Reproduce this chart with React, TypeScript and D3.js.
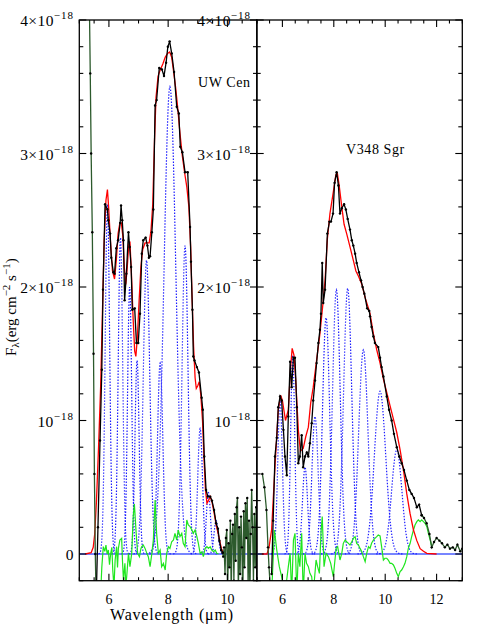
import React from "react";
import * as d3 from "d3";

type P = [number, number];

// ---------- UW Cen (left panel); flux in units of 1e-18 ----------
const uwExcludedBlue: P[] = [[5.33,4.3],[5.37,3.6],[5.40,3.0],[5.44,2.41],[5.48,1.5],[5.51,0.6],[5.54,0.0],[5.57,-0.35]];
const uwObserved: P[] = [[5.58,-0.25],[5.63,0.2],[5.70,0.85],[5.76,1.38],[5.80,1.98],[5.87,2.62],[5.95,2.58],[5.98,2.50],[6.04,2.40],[6.08,2.22],[6.15,2.11],[6.19,2.10],[6.25,2.29],[6.31,2.35],[6.38,2.48],[6.41,2.61],[6.45,2.50],[6.49,2.35],[6.53,1.90],[6.59,2.10],[6.66,2.41],[6.70,2.30],[6.75,2.15],[6.79,1.83],[6.87,1.84],[6.93,1.58],[6.99,1.58],[7.05,1.80],[7.11,2.25],[7.16,2.35],[7.24,2.37],[7.30,2.31],[7.35,2.22],[7.39,2.23],[7.45,2.41],[7.50,2.58],[7.56,3.36],[7.61,3.40],[7.70,3.64],[7.79,3.63],[7.86,3.58],[7.93,3.68],[7.99,3.80],[8.05,3.84],[8.12,3.75],[8.20,3.61],[8.29,3.35],[8.36,3.30],[8.41,3.05],[8.48,3.01],[8.57,2.86],[8.66,2.86],[8.74,2.45],[8.77,2.19],[8.82,1.83],[8.85,1.48],[8.89,1.45],[8.97,1.40],[9.04,1.36],[9.13,1.17],[9.17,1.08],[9.22,0.73],[9.28,0.48],[9.34,0.43],[9.42,0.43],[9.48,0.40],[9.55,0.33],[9.62,0.23],[9.68,0.19],[9.73,0.10],[9.79,0.03],[9.84,0.01]];
const uwExcludedRed: P[] = [[9.84,0.01],[9.86,-0.02],[9.89,0.05],[9.92,-0.15],[9.95,0.12],[9.98,0.18],[10.01,-0.25],[10.04,0.08],[10.07,-0.1],[10.10,0.25],[10.13,-0.3],[10.16,0.15],[10.19,0.22],[10.22,-0.2],[10.25,0.3],[10.28,-0.05],[10.31,0.35],[10.34,0.42],[10.37,-0.3],[10.40,0.2],[10.43,-0.15],[10.46,0.28],[10.49,0.05],[10.52,-0.35],[10.55,0.32],[10.58,-0.1],[10.61,0.38],[10.64,0.12],[10.67,0.42],[10.70,-0.25],[10.73,0.25],[10.76,-0.3],[10.79,0.15],[10.82,0.48],[10.85,0.20],[10.88,-0.2],[10.91,0.3],[10.94,-0.1],[10.97,0.35],[11.00,0.18]];
const uwModel: P[] = [[5.2,0],[5.40,0.01],[5.47,0.05],[5.52,0.15],[5.58,0.40],[5.65,0.80],[5.72,1.25],[5.78,1.80],[5.84,2.35],[5.90,2.65],[5.95,2.73],[5.99,2.60],[6.05,2.35],[6.12,2.12],[6.19,2.06],[6.25,2.20],[6.31,2.40],[6.37,2.48],[6.42,2.48],[6.47,2.38],[6.52,2.15],[6.57,2.02],[6.62,2.15],[6.67,2.32],[6.71,2.34],[6.76,2.10],[6.82,1.75],[6.87,1.52],[6.91,1.48],[6.96,1.62],[7.02,1.90],[7.08,2.15],[7.14,2.28],[7.22,2.33],[7.30,2.33],[7.36,2.33],[7.42,2.42],[7.48,2.62],[7.54,3.10],[7.59,3.42],[7.66,3.58],[7.74,3.63],[7.82,3.67],[7.90,3.72],[7.98,3.75],[8.05,3.76],[8.12,3.72],[8.18,3.62],[8.25,3.50],[8.32,3.35],[8.40,3.15],[8.48,2.98],[8.56,2.85],[8.63,2.75],[8.70,2.60],[8.76,2.30],[8.81,1.90],[8.86,1.55],[8.91,1.32],[8.95,1.24],[9.00,1.26],[9.05,1.29],[9.10,1.20],[9.16,1.00],[9.21,0.72],[9.26,0.48],[9.31,0.38],[9.36,0.40],[9.42,0.43],[9.48,0.39],[9.55,0.31],[9.62,0.22],[9.68,0.16],[9.74,0.10],[9.80,0.04],[9.86,0.01],[9.95,0]];
const uwResidual: P[] = [[5.72,-0.30],[5.76,-0.10],[5.81,0.055],[5.86,0.02],[5.90,0.067],[5.94,0.0],[5.98,0.03],[6.02,-0.08],[6.06,0.005],[6.10,0.05],[6.13,-0.12],[6.17,-0.25],[6.21,-0.045],[6.26,0.055],[6.29,-0.1],[6.32,0.042],[6.37,0.105],[6.43,0.117],[6.46,-0.06],[6.49,-0.195],[6.54,-0.07],[6.57,-0.24],[6.60,-0.17],[6.66,0.005],[6.71,-0.095],[6.77,0.005],[6.82,0.28],[6.86,0.375],[6.92,0.155],[6.97,0.005],[7.03,-0.02],[7.08,0.04],[7.11,0.055],[7.16,0.067],[7.22,0.042],[7.28,0.005],[7.33,-0.02],[7.39,-0.095],[7.45,0.005],[7.50,0.105],[7.56,0.405],[7.61,0.155],[7.67,0.005],[7.73,0.03],[7.78,-0.095],[7.84,-0.07],[7.90,-0.12],[7.95,0.005],[8.01,0.055],[8.06,0.042],[8.12,0.092],[8.18,0.105],[8.23,0.155],[8.29,0.105],[8.34,0.18],[8.40,0.13],[8.46,0.155],[8.51,0.08],[8.57,0.055],[8.63,0.255],[8.68,0.217],[8.74,0.205],[8.80,0.18],[8.85,0.155],[8.91,0.18],[8.97,0.13],[9.02,0.08],[9.08,0.005],[9.14,0.017],[9.19,-0.02],[9.25,0.042],[9.31,0.055],[9.36,0.042],[9.42,0.055],[9.47,0.03],[9.53,0.017],[9.59,0.03],[9.64,0.005],[9.70,0.0]];
// gaussian components: [centre (um), peak, sigma (um)]
const uwComponents: [number, number, number][] = [[5.95,2.62,0.075],[6.39,2.37,0.075],[6.70,2.00,0.07],[6.95,1.45,0.07],[7.27,2.20,0.11],[7.73,1.43,0.09],[8.06,3.50,0.20],[8.57,2.31,0.10],[9.08,0.94,0.08],[9.36,0.46,0.07],[9.62,0.25,0.07]];

// ---------- V348 Sgr (right panel) ----------
const vsExcludedBlue: P[] = [[5.22,0.60],[5.30,0.50],[5.38,0.33],[5.44,0.05],[5.48,-0.10],[5.52,-0.22],[5.55,-0.3]];
const vsObserved: P[] = [[5.58,-0.15],[5.64,0.25],[5.71,0.73],[5.78,0.87],[5.84,1.10],[5.91,1.18],[5.97,1.15],[6.04,0.93],[6.10,0.73],[6.17,0.59],[6.23,1.03],[6.30,1.44],[6.36,1.25],[6.43,1.47],[6.49,1.47],[6.56,1.10],[6.62,0.68],[6.68,0.73],[6.75,0.89],[6.81,0.65],[6.88,0.73],[6.95,0.76],[7.01,0.73],[7.07,0.83],[7.14,0.98],[7.20,1.15],[7.27,1.30],[7.33,1.43],[7.40,1.58],[7.46,1.68],[7.50,1.80],[7.55,2.18],[7.59,1.88],[7.66,1.98],[7.75,2.40],[7.83,2.49],[7.89,2.49],[7.97,2.55],[8.03,2.78],[8.11,2.86],[8.18,2.76],[8.24,2.55],[8.31,2.59],[8.40,2.62],[8.47,2.58],[8.54,2.51],[8.63,2.43],[8.70,2.35],[8.76,2.31],[8.83,2.25],[8.89,2.18],[8.98,2.11],[9.06,2.05],[9.12,2.00],[9.19,1.95],[9.30,1.84],[9.38,1.82],[9.41,1.78],[9.47,1.70],[9.54,1.63],[9.60,1.58],[9.73,1.55],[9.80,1.47],[9.86,1.40],[9.93,1.33],[10.06,1.18],[10.15,1.08],[10.25,1.00],[10.34,0.90],[10.45,0.80],[10.55,0.73],[10.64,0.68],[10.73,0.63],[10.84,0.55],[10.94,0.48],[11.03,0.45],[11.12,0.42],[11.23,0.35],[11.32,0.37],[11.42,0.29]];
const vsExcludedRed: P[] = [[11.42,0.29],[11.51,0.27],[11.61,0.23],[11.72,0.15],[11.81,0.05],[11.90,0.09],[12.00,0.12],[12.11,0.10],[12.21,0.08],[12.32,0.05],[12.42,0.07],[12.52,0.04],[12.63,0.05],[12.72,0.03],[12.81,0.07],[12.92,0.02],[13.0,0.04]];
const vsModel: P[] = [[5.2,0],[5.40,0.0],[5.48,0.05],[5.58,0.18],[5.71,0.65],[5.84,1.08],[5.93,1.19],[6.00,1.15],[6.12,1.00],[6.23,1.08],[6.32,1.40],[6.38,1.54],[6.45,1.49],[6.52,1.30],[6.62,0.93],[6.70,0.77],[6.81,0.79],[6.91,0.88],[7.01,0.95],[7.10,1.13],[7.20,1.25],[7.33,1.45],[7.46,1.65],[7.59,1.90],[7.66,2.05],[7.75,2.36],[7.85,2.55],[7.98,2.71],[8.08,2.84],[8.14,2.85],[8.21,2.76],[8.31,2.60],[8.40,2.47],[8.50,2.40],[8.63,2.30],[8.76,2.20],[8.86,2.12],[8.96,2.08],[9.09,2.02],[9.22,1.92],[9.35,1.84],[9.41,1.80],[9.54,1.65],[9.67,1.53],[9.80,1.43],[9.93,1.31],[10.06,1.21],[10.19,1.11],[10.32,1.01],[10.45,0.91],[10.58,0.78],[10.71,0.63],[10.84,0.45],[10.97,0.30],[11.10,0.18],[11.23,0.10],[11.36,0.04],[11.49,0.02],[11.62,0.005],[12.0,0]];
const vsResidual: P[] = [[5.58,-0.3],[5.69,0.18],[5.78,0.03],[5.88,-0.095],[5.97,-0.17],[6.10,-0.3],[6.23,-0.095],[6.30,0.005],[6.36,-0.3],[6.43,0.105],[6.49,0.155],[6.56,-0.3],[6.62,0.005],[6.68,-0.095],[6.75,0.155],[6.81,-0.3],[6.88,0.005],[6.94,-0.07],[7.01,-0.095],[7.07,-0.145],[7.14,-0.17],[7.20,-0.3],[7.31,-0.045],[7.37,-0.095],[7.44,-0.145],[7.50,0.155],[7.55,0.28],[7.62,-0.095],[7.70,0.005],[7.79,-0.02],[7.88,-0.07],[7.98,-0.17],[8.09,0.042],[8.15,0.055],[8.24,-0.045],[8.31,0.005],[8.37,0.08],[8.44,0.105],[8.50,0.092],[8.57,0.08],[8.63,0.067],[8.70,0.092],[8.76,0.117],[8.83,0.13],[8.89,0.08],[8.96,0.067],[9.02,0.042],[9.09,0.017],[9.15,-0.02],[9.22,-0.057],[9.28,0.005],[9.35,0.055],[9.41,0.042],[9.47,0.08],[9.54,0.105],[9.60,0.117],[9.67,0.13],[9.73,0.142],[9.80,0.135],[9.86,0.055],[9.93,-0.045],[9.99,-0.032],[10.06,-0.032],[10.12,-0.045],[10.19,-0.07],[10.25,-0.07],[10.32,-0.082],[10.38,-0.107],[10.45,-0.145],[10.51,-0.17],[10.58,-0.132],[10.64,-0.12],[10.71,-0.095],[10.77,-0.07],[10.84,-0.02],[10.90,0.042],[10.97,0.08],[11.03,0.13],[11.10,0.18],[11.16,0.217],[11.23,0.242],[11.29,0.255],[11.36,0.242],[11.42,0.255],[11.49,0.242],[11.55,0.23],[11.62,0.205],[11.68,0.155],[11.75,0.105],[11.81,0.055]];
const vsComponents: [number, number, number][] = [[5.91,1.15,0.09],[6.40,1.49,0.08],[6.88,0.65,0.10],[7.27,1.03,0.12],[7.70,1.77,0.14],[8.10,1.98,0.15],[8.54,1.99,0.16],[9.15,1.53,0.18],[9.80,1.22,0.22],[10.45,0.78,0.20]];

// ---------- axes ----------
const yDomain: P = [-0.2, 4];
const yTickValues = [0, 1, 2, 3, 4];
const yTickBase = ["0", "10", "2\u00d710", "3\u00d710", "4\u00d710"];
const yTickExp = ["", "\u221218", "\u221218", "\u221218", "\u221218"];
const leftXTicks = [6, 8, 10];
const rightXTicks = [6, 8, 10, 12];

const FONT = "'Liberation Serif', 'DejaVu Serif', serif";
const yScale = d3.scaleLinear().domain(yDomain).range([580.7, 20]);

type PanelProps = {
  id: string;
  domain: P;
  range: P;
  ticks: number[];
  excludedA: P[];
  observed: P[];
  excludedB: P[];
  model: P[];
  residual: P[];
  components: [number, number, number][];
  name: string;
  nameX: number;
  nameY: number;
  labelX: number;
};

function Panel(p: PanelProps) {
  const x = d3.scaleLinear().domain(p.domain).range(p.range);
  const y = yScale;
  const line = d3.line<P>().x((d) => x(d[0])).y((d) => y(d[1]));
  const [x0, x1] = p.range;
  const yTop = y(yDomain[1]);
  const yBot = y(yDomain[0]);
  const minorX = d3.range(p.domain[0], p.domain[1] + 0.001, 0.5);
  const minorY = d3.range(yDomain[0], yDomain[1] + 0.001, 0.2);
  const gauss = (c: number, a: number, s: number): P[] =>
    d3.range(-4, 4.001, 0.08).map((k) => [c + k * s, a * Math.exp((-k * k) / 2)] as P);
  const dots = [...p.excludedA, ...p.observed, ...p.excludedB];
  return (
    <g>
      <defs>
        <clipPath id={p.id}>
          <rect x={x0} y={yTop} width={x1 - x0} height={yBot - yTop} />
        </clipPath>
      </defs>
      <g clipPath={`url(#${p.id})`}>
        <line x1={x0} x2={x1} y1={y(0)} y2={y(0)} stroke="#4a5cff" strokeWidth={1.6} />
        {p.components.map((c, i) => (
          <path key={i} d={line(gauss(c[0], c[1], c[2])) || ""} fill="none" stroke="#1c1cff" strokeWidth={1.2} strokeDasharray="1.4,1.6" />
        ))}
        <path d={line(p.residual) || ""} fill="none" stroke="#1ee61e" strokeWidth={1.2} />
        <path d={line(p.model) || ""} fill="none" stroke="#ff0000" strokeWidth={1.3} />
        <path d={line(p.excludedA) || ""} fill="none" stroke="#2c5a2c" strokeWidth={1.3} />
        <path d={line(p.excludedB) || ""} fill="none" stroke="#2c5a2c" strokeWidth={1.3} />
        <path d={line(p.observed) || ""} fill="none" stroke="#000" strokeWidth={1.3} />
        {dots.map((d, i) => (
          <circle key={i} cx={x(d[0])} cy={y(d[1])} r={1.2} fill="#000" />
        ))}
      </g>
      <rect x={x0} y={yTop} width={x1 - x0} height={yBot - yTop} fill="none" stroke="#000" strokeWidth={1.3} />
      {minorX.map((v, i) => {
        const major = Math.abs(v % 2) < 1e-6;
        const len = major ? 7 : 3.5;
        return (
          <g key={"x" + i}>
            <line x1={x(v)} x2={x(v)} y1={yTop} y2={yTop + len} stroke="#000" strokeWidth={1.1} />
            <line x1={x(v)} x2={x(v)} y1={yBot} y2={yBot - len} stroke="#000" strokeWidth={1.1} />
          </g>
        );
      })}
      {minorY.map((v, i) => {
        const major = Math.abs(v - Math.round(v)) < 1e-6;
        const len = major ? 7 : 4;
        return (
          <g key={"y" + i}>
            <line x1={x0} x2={x0 + len} y1={y(v)} y2={y(v)} stroke="#000" strokeWidth={1.1} />
            <line x1={x1} x2={x1 - len} y1={y(v)} y2={y(v)} stroke="#000" strokeWidth={1.1} />
          </g>
        );
      })}
      {p.ticks.map((t) => (
        <text key={t} x={x(t)} y={604} textAnchor="middle" fontFamily={FONT} fontSize={14}>
          {t}
        </text>
      ))}
      {yTickValues.map((v, i) =>
        p.labelX > 100 && v === 0 ? null : (
          <text key={v} x={p.labelX} y={y(v) + 6} textAnchor="end" fontFamily={FONT} fontSize={15.5} letterSpacing={0.4}>
            {yTickBase[i]}
            {yTickExp[i] ? (
              <tspan fontSize={11} dy={-7} letterSpacing={1}>
                {yTickExp[i]}
              </tspan>
            ) : null}
          </text>
        )
      )}
      <text x={p.nameX} y={p.nameY} fontFamily={FONT} fontSize={14} letterSpacing={0.6}>
        {p.name}
      </text>
    </g>
  );
}

export default function App() {
  return (
    <svg width={477} height={635} style={{ position: "absolute", left: 0, top: 0, background: "#fff" }}>
      <rect width={477} height={635} fill="#fff" />
      <Panel
        id="clipL"
        domain={[5, 11]}
        range={[79.3, 257]}
        ticks={leftXTicks}
        excludedA={uwExcludedBlue}
        observed={uwObserved}
        excludedB={uwExcludedRed}
        model={uwModel}
        residual={uwResidual}
        components={uwComponents}
        name="UW Cen"
        nameX={198}
        nameY={87}
        labelX={74}
      />
      <Panel
        id="clipR"
        domain={[5, 13]}
        range={[256.7, 462.3]}
        ticks={rightXTicks}
        excludedA={vsExcludedBlue}
        observed={vsObserved}
        excludedB={vsExcludedRed}
        model={vsModel}
        residual={vsResidual}
        components={vsComponents}
        name="V348 Sgr"
        nameX={346}
        nameY={154}
        labelX={251}
      />
      <text x={110} y={620} fontFamily={FONT} fontSize={16} textLength={123} lengthAdjust="spacing">
        Wavelength (μm)
      </text>
      <text transform="translate(16,356) rotate(-90)" fontFamily={FONT} fontSize={15}>
        F<tspan fontSize={11} dy={3}>λ</tspan>
        <tspan dy={-3}>(erg cm</tspan>
        <tspan fontSize={11} dy={-6}>−2</tspan>
        <tspan dy={6}> s</tspan>
        <tspan fontSize={11} dy={-6}>−1</tspan>
        <tspan dy={6}>)</tspan>
      </text>
    </svg>
  );
}
